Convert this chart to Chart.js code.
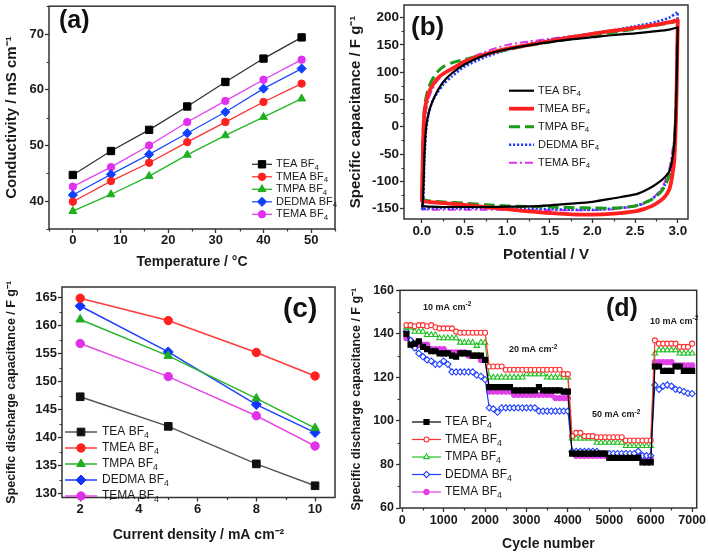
<!DOCTYPE html>
<html><head><meta charset="utf-8">
<script src="https://cdn.jsdelivr.net/npm/chart.js@4.4.0/dist/chart.umd.min.js"></script>
<style>
html,body{margin:0;padding:0;background:#fff;}
#wrap{position:relative;width:708px;height:554px;overflow:hidden;}
canvas{position:absolute;left:0;top:0;}
</style></head><body>
<div id="wrap">
<canvas id="ca" width="708" height="554"></canvas>
<canvas id="cb" width="708" height="554"></canvas>
<canvas id="cc" width="708" height="554"></canvas>
<canvas id="cd" width="708" height="554"></canvas>
</div>
<script>
// ---------- series names ----------
const seriesNames = ['TEA BF₄', 'TMEA BF₄', 'TMPA BF₄', 'DEDMA BF₄', 'TEMA BF₄'];

// ---------- (a) conductivity vs temperature ----------
const tempC = [0, 8, 16, 24, 32, 40, 48];
const condTEA = [44.7, 49.0, 52.8, 57.0, 61.4, 65.6, 69.4];
const condTMEA = [39.9, 43.6, 46.9, 50.6, 54.2, 57.8, 61.1];
const condTMPA = [38.2, 41.2, 44.5, 48.3, 51.8, 55.1, 58.4];
const condDEDMA = [41.1, 44.8, 48.4, 52.2, 56.0, 60.2, 63.8];
const condTEMA = [42.6, 46.1, 50.0, 54.2, 58.0, 61.8, 65.4];
const tickTempC = [0, 10, 20, 30, 40, 50];
const tickTempLabels = ['0', '10', '20', '30', '40', '50'];
const tickCond = [40, 50, 60, 70];
const tickCondLabels = ['40', '50', '60', '70'];

// ---------- (b) cyclic voltammetry ----------
const cvFwdV = [0.0, 0.01, 0.02, 0.03, 0.05, 0.08, 0.12, 0.18, 0.25, 0.35, 0.5, 0.75, 1.0, 1.25, 1.5, 1.75, 2.0, 2.25, 2.5, 2.75, 2.9, 3.0];
const cvRevV = [3.0, 2.99, 2.98, 2.96, 2.93, 2.9, 2.85, 2.8, 2.7, 2.6, 2.5, 2.25, 2.0, 1.75, 1.5, 1.25, 1.0, 0.75, 0.5, 0.25, 0.1, 0.05, 0.02, 0.0];
const cvTEAfwd = [-147, -140, -100, -50, 0, 25, 45, 65, 82, 98, 114, 132, 142, 149, 155, 160, 164, 168, 171, 175, 178, 182];
const cvTEArev = [182, 110, 40, -30, -65, -82, -92, -99, -110, -118, -124, -131, -137.5, -141, -144, -146, -146.5, -147, -147, -147, -146.5, -146, -146, -147];
const cvTMEAfwd = [-138, -60, 0, 25, 45, 62, 75, 88, 97, 106, 119, 133, 143, 150, 157, 164, 170, 176, 181, 187, 191, 195];
const cvTMEArev = [195, 100, 20, -60, -95, -115, -128, -135, -145, -151, -155, -159, -161, -160.5, -158, -155, -151, -147, -143, -140, -138, -137, -137, -138];
const cvTMPAfwd = [-130, -40, 10, 35, 55, 72, 86, 100, 110, 117, 123, 133, 141, 149, 155, 161, 167, 173, 179, 186, 190, 194];
const cvTMPArev = [194, 120, 40, -30, -70, -90, -108, -120, -133, -140, -145, -149, -149, -148, -147, -146, -145, -143, -140, -138, -136, -135, -133, -130];
const cvDEDMAfwd = [-152, -148, -120, -60, -5, 25, 45, 62, 77, 92, 110, 128, 141, 151, 159, 165, 171, 177, 184, 192, 200, 210];
const cvDEDMArev = [210, 120, 40, -30, -68, -88, -106, -118, -132, -140, -145, -150, -152, -152, -151, -150, -149.5, -149, -149, -149, -149, -150, -151, -152];
const cvTEMAfwd = [-152, -120, -50, 0, 30, 52, 68, 84, 96, 107, 121, 138, 150, 156, 161, 166, 171, 176, 182, 188, 193, 198];
const cvTEMArev = [198, 120, 45, -20, -50, -78, -100, -115, -132, -141, -146, -151, -153, -153, -153, -153, -152.5, -152, -152, -152, -152, -152, -152, -152];
const tickPotential = [0, 0.5, 1, 1.5, 2, 2.5, 3];
const tickPotentialLabels = ['0.0', '0.5', '1.0', '1.5', '2.0', '2.5', '3.0'];
const tickCapCV = [-150, -100, -50, 0, 50, 100, 150, 200];
const tickCapCVLabels = ['-150', '-100', '-50', '0', '50', '100', '150', '200'];

// ---------- (c) capacitance vs current density ----------
const currentDensity = [2, 5, 8, 10];
const capTEA = [147.3, 142.0, 135.3, 131.4];
const capTMEA = [164.9, 160.9, 155.2, 151.0];
const capTMPA = [161.1, 154.6, 147.0, 141.7];
const capDEDMA = [163.5, 155.3, 145.9, 140.9];
const capTEMA = [156.8, 150.9, 143.9, 138.5];
const tickCurrent = [2, 4, 6, 8, 10];
const tickCurrentLabels = ['2', '4', '6', '8', '10'];
const tickCapC = [130, 135, 140, 145, 150, 155, 160, 165];
const tickCapCLabels = ['130', '135', '140', '145', '150', '155', '160', '165'];

// ---------- (d) rate cycling ----------
const cycleNo = [100,200,300,400,500,600,700,800,900,1000,1100,1200,1300,1400,1500,1600,1700,1800,1900,2000,
  2100,2200,2300,2400,2500,2600,2700,2800,2900,3000,3100,3200,3300,3400,3500,3600,3700,3800,3900,4000,
  4100,4200,4300,4400,4500,4600,4700,4800,4900,5000,5100,5200,5300,5400,5500,5600,5700,5800,5900,6000,
  6100,6200,6300,6400,6500,6600,6700,6800,6900,7000];
const cycTEA = [140,135,135.5,136.5,134,133,132,132,131,131,131,130,129.5,131,131,131,130,130,130,128,
  115.5,115.5,115.5,115.5,115.5,115.5,114,114,114,114,114,114,115.5,114,114,114,114,114,113.5,113.5,
  85,85,85,85,85,85,85,85,85,83,83,83,83,83,83,83,83,81,81,81,
  125,125,123,123,123,125,125,123,123,123];
const cycTMEA = [144,144,143.5,144,144,143.5,144,143,142.5,142.5,142.5,142.5,141,140.5,140.5,140.5,140.5,140.5,140.5,140.5,
  125,125,125,125,123.5,123.5,123.5,123.5,123.5,123.5,123.5,123.5,123.5,123.5,123.5,123.5,123.5,123.5,121.5,121.5,
  93,94.5,94.5,93,93,93,92.5,92.5,92.5,92.5,92.5,92.5,92.5,91,91,91,91,91,91,91,
  137,135.5,135.5,135.5,135.5,135.5,134,134,134,135.5];
const cycTMPA = [143,143,141,141,141,139.5,139.5,139.5,138,138,138,138,138,136,136,136,136,134.5,136,136,
  120,120,120,120,120,120,120,120,120,121.5,121.5,121.5,121.5,121.5,120,120,120,120,120,120,
  92,92,92,92,92,92,90,90,90,90,90,90,90,88.5,88.5,88.5,88.5,88.5,88.5,88.5,
  131,132.5,132.5,132.5,132.5,132.5,131,131,131,131];
const cycDEDMA = [141,137,133.5,131,129.5,128,127.5,126,126,127.5,126,122.5,122.5,122.5,122.5,122.5,122.5,121,120.5,119,
  106,105.5,104,106,106,106,106,106,106,106,106,106,104.5,104.5,104.5,104.5,104.5,104.5,104.5,104.5,
  86,86,86,86,86,86,86,85,85,85,85,85,85,85,85,85,86,84,84,84,
  116.5,114.5,116,116.5,116,114.5,114.2,113.5,112.7,112.5];
const cycTEMA = [138,137,134,135,135,135,133,133,133,133,131.5,131.5,131.5,131.5,131.5,130,130,130,128,128,
  113.5,113.5,113.5,113.5,113.5,113.5,112,112,112,112,112,112,112,112,112,112,110.5,110.5,110.5,110.5,
  85.5,84,84,84,84,84,84,84,84,84,84,84,84,84,84,84,84,84,82.5,82.5,
  127,127,127,127,127,125.5,125.5,125.5,125.5,125.5];
const tickCycle = [0, 1000, 2000, 3000, 4000, 5000, 6000, 7000];
const tickCycleLabels = ['0', '1000', '2000', '3000', '4000', '5000', '6000', '7000'];
const tickCapD = [60, 80, 100, 120, 140, 160];
const tickCapDLabels = ['60', '80', '100', '120', '140', '160'];

// ---------- helpers ----------
const FONT = "'Liberation Sans', Arial, Helvetica, sans-serif";
const INK = '#1a1a1a';
const xy = (xs, ys) => xs.map((x, i) => ({x: x, y: ys[i]}));

function drawRich(ctx, str, x, y, size, weight, color, align) {
  const segs = [];
  const re = /\^\{([^}]*)\}|_\{([^}]*)\}/g;
  let last = 0, m;
  while ((m = re.exec(str))) {
    if (m.index > last) segs.push({t: str.slice(last, m.index), k: 0});
    if (m[1] !== undefined) segs.push({t: m[1], k: 1}); else segs.push({t: m[2], k: -1});
    last = re.lastIndex;
  }
  if (last < str.length) segs.push({t: str.slice(last), k: 0});
  const fontFor = k => weight + ' ' + (k ? size * 0.72 : size) + 'px ' + FONT;
  let w = 0;
  for (const s of segs) { ctx.font = fontFor(s.k); s.w = ctx.measureText(s.t).width; w += s.w; }
  let cx = align === 'center' ? x - w / 2 : align === 'right' ? x - w : x;
  ctx.fillStyle = color; ctx.textBaseline = 'middle'; ctx.textAlign = 'left';
  for (const s of segs) {
    ctx.font = fontFor(s.k);
    ctx.fillText(s.t, cx, y + (s.k === 1 ? -size * 0.33 : s.k === -1 ? size * 0.32 : 0));
    cx += s.w;
  }
}

function drawMarker(ctx, style, r, x, y) {
  ctx.beginPath();
  if (style === 'circle') { ctx.arc(x, y, r, 0, Math.PI * 2); }
  else if (style === 'rect') { const h = r * Math.SQRT1_2; ctx.rect(x - h, y - h, 2 * h, 2 * h); }
  else if (style === 'rectRot') { ctx.moveTo(x, y - r); ctx.lineTo(x + r, y); ctx.lineTo(x, y + r); ctx.lineTo(x - r, y); ctx.closePath(); }
  else if (style === 'triangle') {
    ctx.moveTo(x, y - r);
    ctx.lineTo(x + r * Math.sin(2 * Math.PI / 3), y - r * Math.cos(2 * Math.PI / 3));
    ctx.lineTo(x - r * Math.sin(2 * Math.PI / 3), y - r * Math.cos(2 * Math.PI / 3));
    ctx.closePath();
  }
  ctx.fill(); ctx.stroke();
}

function minorValues(scale, step, major) {
  const out = [];
  const a = Math.ceil(scale.min / step - 1e-9), b = Math.floor(scale.max / step + 1e-9);
  for (let k = a; k <= b; k++) {
    const v = k * step, q = v / major;
    if (Math.abs(q - Math.round(q)) > 1e-6) out.push(v);
  }
  return out;
}

const deco = {
  id: 'deco',
  afterDraw(chart, args, o) {
    const ctx = chart.ctx, a = chart.chartArea;
    const xs = chart.scales.x, ys = chart.scales.y;
    ctx.save();
    ctx.strokeStyle = '#333'; ctx.lineWidth = 1.2;
    ctx.beginPath();
    for (const v of minorValues(xs, o.minorX, o.majorX)) { const p = Math.round(xs.getPixelForValue(v)) + 0.5; ctx.moveTo(p, a.bottom); ctx.lineTo(p, a.bottom + 2.5); }
    for (const v of minorValues(ys, o.minorY, o.majorY)) { const p = Math.round(ys.getPixelForValue(v)) + 0.5; ctx.moveTo(a.left, p); ctx.lineTo(a.left - 2.5, p); }
    ctx.stroke();
    ctx.lineWidth = 1.5; ctx.strokeStyle = '#333';
    ctx.strokeRect(a.left, a.top, a.right - a.left, a.bottom - a.top);
    if (o.panel) drawRich(ctx, o.panel.text, o.panel.x, o.panel.y, o.panel.size, 'bold', '#111', 'left');
    for (const t of (o.texts || [])) drawRich(ctx, t.text, t.x, t.y, t.size, 'bold', INK, 'left');
    if (o.legend) {
      const L = o.legend;
      chart.data.datasets.forEach((ds, i) => {
        const y = L.y + i * L.dy;
        ctx.save();
        ctx.strokeStyle = ds.borderColor; ctx.lineWidth = ds.borderWidth;
        ctx.setLineDash(ds.borderDash || []); ctx.lineCap = 'butt';
        ctx.beginPath(); ctx.moveTo(L.x, y); ctx.lineTo(L.x + L.len, y); ctx.stroke();
        ctx.setLineDash([]);
        if (L.marker) {
          ctx.fillStyle = ds.pointBackgroundColor; ctx.strokeStyle = ds.pointBorderColor;
          ctx.lineWidth = ds.pointBorderWidth;
          drawMarker(ctx, ds.pointStyle, ds.pointRadius, L.x + L.len / 2, y);
        }
        ctx.restore();
        drawRich(ctx, ds.label.replace('₄', '_{4}'), L.x + L.len + L.gap, y, L.size, 'normal', INK, 'left');
      });
    }
    ctx.restore();
  }
};

function xAxis(o) {
  return {
    type: 'linear', position: 'bottom', min: o.min, max: o.max,
    afterBuildTicks: s => { s.ticks = o.ticks.map(v => ({value: v})); },
    afterFit: s => { s.height = o.height; s.paddingLeft = 0; s.paddingRight = 0; },
    grid: {drawOnChartArea: false, drawTicks: true, tickLength: 4, tickWidth: 1.3, tickColor: '#333'},
    border: {display: false},
    ticks: {autoSkip: false, maxRotation: 0, minRotation: 0,
      padding: o.tpad, color: INK, font: {family: FONT, size: o.fs, weight: 'bold'}, callback: (v, i) => o.labels[i]},
    title: {display: true, text: o.title, color: INK, font: {family: FONT, size: o.tfs, weight: 'bold'},
      padding: {top: 0, bottom: o.tbot}}
  };
}
function yAxis(o) {
  return {
    type: 'linear', position: 'left', min: o.min, max: o.max,
    afterBuildTicks: s => { s.ticks = o.ticks.map(v => ({value: v})); },
    afterFit: s => { s.width = o.width; s.paddingTop = 0; s.paddingBottom = 0; },
    grid: {drawOnChartArea: false, drawTicks: true, tickLength: 4, tickWidth: 1.3, tickColor: '#333'},
    border: {display: false},
    ticks: {autoSkip: false, padding: o.tpad, color: INK,
      font: {family: FONT, size: o.fs, weight: 'bold'}, callback: (v, i) => o.labels[i]},
    title: {display: true, text: o.title, color: INK, font: {family: FONT, size: o.tfs, weight: 'bold'},
      padding: {top: o.ttop, bottom: 0}}
  };
}
function baseOptions(padding, scales, decoOpts) {
  return {
    responsive: false, animation: false, devicePixelRatio: 1, events: [],
    layout: {padding: padding},
    scales: scales,
    plugins: {legend: {display: false}, tooltip: {enabled: false}, title: {display: false}, deco: decoOpts}
  };
}

// ---------- (a) ----------
const colA = ['#333333', '#ff3030', '#22b822', '#1f4fff', '#e040f0'];
const mkA = ['#000000', '#ff2020', '#1fb01f', '#1040ff', '#e030f0'];
const styA = ['rect', 'circle', 'triangle', 'rectRot', 'circle'];
const radA = [5.2, 3.7, 4.6, 4.6, 3.7];
const dataA = [condTEA, condTMEA, condTMPA, condDEDMA, condTEMA];
new Chart(document.getElementById('ca'), {
  type: 'scatter',
  data: {datasets: dataA.map((d, i) => ({
    label: seriesNames[i], data: xy(tempC, d), showLine: true,
    borderColor: colA[i], borderWidth: 1.3, pointStyle: styA[i], pointRadius: radA[i],
    pointBackgroundColor: mkA[i], pointBorderColor: mkA[i], pointBorderWidth: 1
  }))},
  options: baseOptions({left: 2, top: 5, right: 373, bottom: 277}, {
    x: xAxis({min: -5, max: 55, ticks: tickTempC, labels: tickTempLabels, height: 48, tpad: 0, fs: 13, title: 'Temperature / °C', tfs: 14, tbot: 6.6}),
    y: yAxis({min: 35, max: 75, ticks: tickCond, labels: tickCondLabels, width: 47, tpad: 1, fs: 13, title: 'Conductivity / mS cm⁻¹', tfs: 15, ttop: 1})
  }, {minorX: 5, majorX: 10, minorY: 5, majorY: 10,
      panel: {text: '(a)', x: 59, y: 21, size: 25},
      legend: {x: 252, y: 164.3, dy: 12.5, len: 20, gap: 4, size: 11, marker: true}}),
  plugins: [deco]
});

// ---------- (b) ----------
const colB = ['#000000', '#ff2020', '#1a9a1a', '#2040ff', '#e030e8'];
const widB = [2.2, 3.8, 3, 2.6, 2];
const dashB = [[], [], [11, 5], [2.2, 1.8], [8, 3, 2, 3]];
const fwdB = [cvTEAfwd, cvTMEAfwd, cvTMPAfwd, cvDEDMAfwd, cvTEMAfwd];
const revB = [cvTEArev, cvTMEArev, cvTMPArev, cvDEDMArev, cvTEMArev];
new Chart(document.getElementById('cb'), {
  type: 'scatter',
  data: {datasets: fwdB.map((d, i) => ({
    label: seriesNames[i], data: xy(cvFwdV, d).concat(xy(cvRevV, revB[i])), showLine: true,
    borderColor: colB[i], borderWidth: widB[i], borderDash: dashB[i], pointRadius: 0, tension: 0.25,
    borderJoinStyle: 'round'
  }))},
  options: baseOptions({left: 345, top: 5, right: 20, bottom: 277}, {
    x: xAxis({min: -0.21, max: 3.12, ticks: tickPotential, labels: tickPotentialLabels, height: 58, tpad: 0, fs: 13.5, title: 'Potential / V', tfs: 15, tbot: 13}),
    y: yAxis({min: -169, max: 223, ticks: tickCapCV, labels: tickCapCVLabels, width: 59, tpad: 1, fs: 13.5, title: 'Specific capacitance / F g⁻¹', tfs: 15, ttop: 2})
  }, {minorX: 0.25, majorX: 0.5, minorY: 25, majorY: 50,
      panel: {text: '(b)', x: 411, y: 28, size: 26},
      legend: {x: 509, y: 90.7, dy: 18, len: 25, gap: 4, size: 11, marker: false}}),
  plugins: [deco]
});

// ---------- (c) ----------
const colC = ['#555555', '#ff3b3b', '#2ab52a', '#1e40ff', '#e54be5'];
const mkC = ['#111111', '#ff2020', '#1fae1f', '#1035ff', '#e030e8'];
const radC = [5.4, 4.2, 5, 5, 4.2];
const dataC = [capTEA, capTMEA, capTMPA, capDEDMA, capTEMA];
new Chart(document.getElementById('cc'), {
  type: 'scatter',
  data: {datasets: dataC.map((d, i) => ({
    label: seriesNames[i], data: xy(currentDensity, d), showLine: true,
    borderColor: colC[i], borderWidth: 1.5, pointStyle: styA[i], pointRadius: radC[i],
    pointBackgroundColor: mkC[i], pointBorderColor: mkC[i], pointBorderWidth: 1
  }))},
  options: baseOptions({left: 2, top: 287, right: 373, bottom: 0}, {
    x: xAxis({min: 1.38, max: 10.68, ticks: tickCurrent, labels: tickCurrentLabels, height: 56.5, tpad: 0, fs: 13, title: 'Current density / mA cm⁻²', tfs: 14, tbot: 10.6}),
    y: yAxis({min: 129.3, max: 166.9, ticks: tickCapC, labels: tickCapCLabels, width: 60, tpad: 1, fs: 13, title: 'Specific discharge capacitance / F g⁻¹', tfs: 12.5, ttop: 2.5})
  }, {minorX: 1, majorX: 2, minorY: 2.5, majorY: 5,
      panel: {text: '(c)', x: 283, y: 309, size: 28},
      legend: {x: 65, y: 432, dy: 16, len: 32, gap: 5, size: 12, marker: true}}),
  plugins: [deco]
});

// ---------- (d) ----------
const colD = ['#000000', '#ff3030', '#22c022', '#2040ff', '#e040e8'];
const fillD = ['#000000', '#ffffff', '#ffffff', '#ffffff', '#e040e8'];
const radD = [3.6, 2.5, 3.2, 3.1, 2.6];
const dataD = [cycTEA, cycTMEA, cycTMPA, cycDEDMA, cycTEMA];
new Chart(document.getElementById('cd'), {
  type: 'scatter',
  data: {datasets: dataD.map((d, i) => ({
    label: seriesNames[i], data: xy(cycleNo, d), showLine: true,
    borderColor: colD[i], borderWidth: 1.2, pointStyle: styA[i], pointRadius: radD[i],
    pointBackgroundColor: fillD[i], pointBorderColor: colD[i], pointBorderWidth: 1.1
  }))},
  options: baseOptions({left: 345, top: 290.3, right: 11.3, bottom: 0}, {
    x: xAxis({min: -55, max: 7110, ticks: tickCycle, labels: tickCycleLabels, height: 46, tpad: 1, fs: 12.5, title: 'Cycle number', tfs: 14, tbot: 1.9}),
    y: yAxis({min: 60, max: 160, ticks: tickCapD, labels: tickCapDLabels, width: 55, tpad: 2, fs: 12.5, title: 'Specific discharge capacitance / F g⁻¹', tfs: 12.5, ttop: 4.5})
  }, {minorX: 500, majorX: 1000, minorY: 10, majorY: 20,
      panel: {text: '(d)', x: 606, y: 309, size: 25},
      texts: [
        {text: '10 mA cm^{-2}', x: 423, y: 307.5, size: 9},
        {text: '20 mA cm^{-2}', x: 509, y: 350, size: 9},
        {text: '50 mA cm^{-2}', x: 592, y: 415, size: 9},
        {text: '10 mA cm^{-2}', x: 650, y: 321.5, size: 9}
      ],
      legend: {x: 412, y: 422, dy: 17.5, len: 29, gap: 4, size: 12, marker: true}}),
  plugins: [deco]
});
</script>
</body></html>
